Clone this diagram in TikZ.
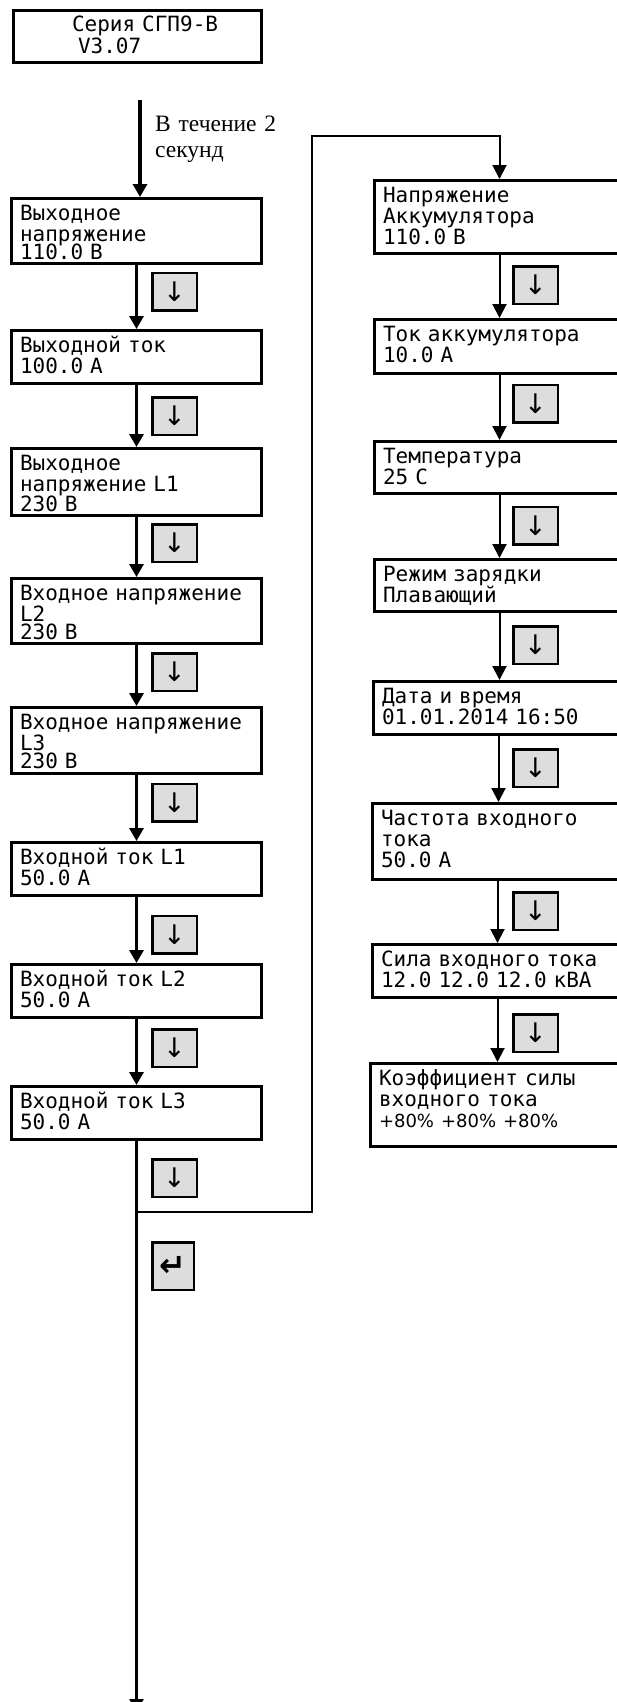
\documentclass[tikz,border=0pt]{standalone}
\usepackage{fontspec}
\usetikzlibrary{arrows.meta}
\newfontfamily\lcdfont{DejaVu Sans Mono}
\newfontfamily\keyfont{DejaVu Sans}
\newfontfamily\hintfont{Liberation Serif}
\definecolor{keygray}{RGB}{221,221,221}
\tikzset{
    lcd/.style={draw, line width=3pt, anchor=north west, align=left, text width=233pt,
        inner xsep=8.5pt, inner ysep=0pt, text height=21.5pt,
        font=\lcdfont\fontsize{21pt}{21pt}\selectfont},
    btn/.style={draw, line width=2.5pt, fill=keygray, minimum width=44.5pt, minimum height=37.5pt,
        inner sep=0pt, font=\keyfont\fontsize{27pt}{27pt}\selectfont},
    hint/.style={anchor=base west, align=left, text width=130pt, inner sep=0pt,
        font=\hintfont\fontsize{23.5pt}{26pt}\selectfont},
    larr/.style={-{Triangle[width=14pt,length=13pt]}, line width=3.3pt},
    rarr/.style={-{Triangle[width=14pt,length=14pt]}, line width=2pt}
}

\begin{document}
\begin{tikzpicture}[x=1pt, y=-1pt]
        \useasboundingbox (0,0) rectangle (617,1702);

        % --- Title ---
        \node [lcd, text width=231pt, text depth=30.5pt] (title) at (12,9) {\hspace*{50pt}Серия СГП9-В\\\hspace*{56pt}V3.07};
        \coordinate (start) at (140,100);
        \node [hint] (wait) at (155,131) {В течение 2\\секунд};

        % --- Left column ---
        \node [lcd, text depth=43.5pt] (b1) at (10,197) {Выходное\\напряжение\\[-3pt]110.0 В};
        \node [lcd, text depth=31.5pt] (b2) at (10,329) {Выходной ток\\100.0 А};
        \node [lcd, text depth=45.5pt] (b3) at (10,447) {Выходное\\напряжение L1\\[-1pt]230 В};
        \node [lcd, text depth=43.5pt] (b4) at (10,577) {Входное напряжение\\L2\\[-3pt]230 В};
        \node [lcd, text depth=44.5pt] (b5) at (10,706) {Входное напряжение\\L3\\[-3pt]230 В};
        \node [lcd, text depth=31.5pt] (b6) at (10,841) {Входной ток L1\\50.0 А};
        \node [lcd, text depth=31.5pt] (b7) at (10,963) {Входной ток L2\\50.0 А};
        \node [lcd, text depth=31.5pt] (b8) at (10,1085) {Входной ток L3\\50.0 А};

        % --- Right column ---
        \node [lcd, text depth=51.5pt] (r1) at (373,179) {Напряжение\\Аккумулятора\\110.0 В};
        \node [lcd, text depth=32.5pt] (r2) at (373,318) {Ток аккумулятора\\10.0 А};
        \node [lcd, text depth=30.5pt] (r3) at (373,440) {Температура\\25 С};
        \node [lcd, text depth=30.5pt] (r4) at (373,558) {Режим зарядки\\Плавающий};
        \node [lcd, text depth=31.5pt] (r5) at (372,680) {Дата и время\\01.01.2014 16:50};
        \node [lcd, text depth=54.5pt] (r6) at (371,802) {Частота входного\\тока\\50.0 А};
        \node [lcd, text depth=31.5pt] (r7) at (371,943) {Сила входного тока\\12.0 12.0 12.0 кВА};
        \node [lcd, text depth=61.5pt] (r8) at (369,1062) {Коэффициент силы\\входного тока\\{\keyfont\fontsize{18pt}{21pt}\selectfont +80\% +80\% +80\%}};

        % --- Keys ---
        \foreach \n/\y in {1/291.5, 2/416, 3/543, 4/672, 5/802.5, 6/934.5, 7/1048, 8/1178}
            \node [btn] (k\n) at (174.5,\y) {↓};
        \foreach \n/\y in {1/285, 2/403.5, 3/525.5, 4/645, 5/768, 6/911, 7/1033}
            \node [btn] (q\n) at (535.5,\y) {↓};
        \node [btn, minimum width=41.5pt, minimum height=47.5pt, font=\keyfont\bfseries\fontsize{32pt}{32pt}\selectfont] (enter) at (173,1266) {↵};

        % --- Flow ---
        \draw [larr] (start) -- (start |- b1.north);
        \foreach \a/\b in {b1/b2, b2/b3, b3/b4, b4/b5, b5/b6, b6/b7, b7/b8}
            \draw [larr] (\a.south) -- (\a.south |- \b.north);
        \foreach \a/\b in {r1/r2, r2/r3, r3/r4, r4/r5, r5/r6, r6/r7, r7/r8}
            \draw [rarr] (\a.south) -- (\a.south |- \b.north);

        % --- Branch to the right column ---
        \path (b8.south) ++(0,71) coordinate (split);
        \coordinate (exit) at (136.5,1712);
        \coordinate (turn) at (312,136);
        \draw [-{Triangle[width=14pt,length=13pt]}, line width=2.5pt] (b8.south) -- (exit);
        \draw [rarr] (split) -| (turn) -| (r1.north);

\end{tikzpicture}
\end{document}
